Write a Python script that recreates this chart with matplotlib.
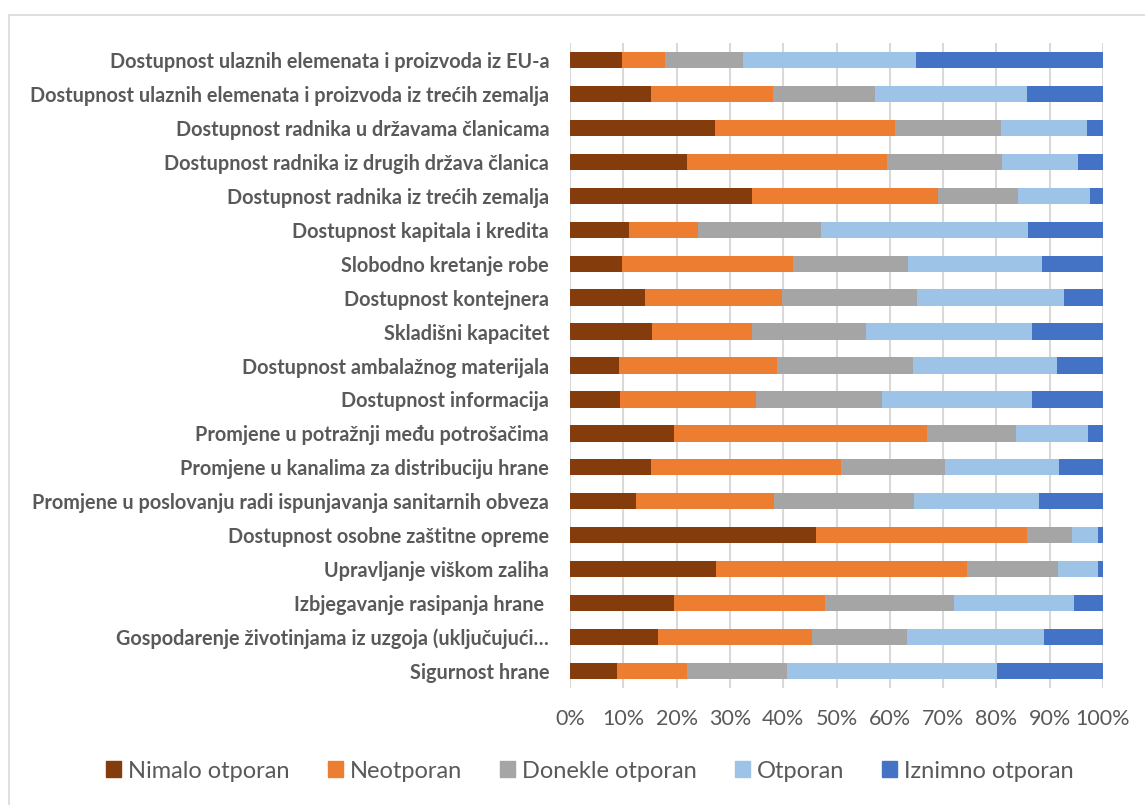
import matplotlib.pyplot as plt
from matplotlib.patches import Patch, Rectangle

categories = [
    "Dostupnost ulaznih elemenata i proizvoda iz EU-a",
    "Dostupnost ulaznih elemenata i proizvoda iz trećih zemalja",
    "Dostupnost radnika u državama članicama",
    "Dostupnost radnika iz drugih država članica",
    "Dostupnost radnika iz trećih zemalja",
    "Dostupnost kapitala i kredita",
    "Slobodno kretanje robe",
    "Dostupnost kontejnera",
    "Skladišni kapacitet",
    "Dostupnost ambalažnog materijala",
    "Dostupnost informacija",
    "Promjene u potražnji među potrošačima",
    "Promjene u kanalima za distribuciju hrane",
    "Promjene u poslovanju radi ispunjavanja sanitarnih obveza",
    "Dostupnost osobne zaštitne opreme",
    "Upravljanje viškom zaliha",
    "Izbjegavanje rasipanja hrane ",
    "Gospodarenje životinjama iz uzgoja (uključujući…",
    "Sigurnost hrane",
]

series_names = ["Nimalo otporan", "Neotporan", "Donekle otporan", "Otporan", "Iznimno otporan"]

nimalo = [9.7, 15.2, 27.2, 21.9, 34.2, 11.1, 9.7, 14.1, 15.3, 9.2, 9.3, 19.6, 15.2, 12.4, 46.2, 27.4, 19.5, 16.6, 8.9]
neotporan = [8.1, 22.9, 33.8, 37.6, 34.8, 13.0, 32.1, 25.7, 18.8, 29.6, 25.6, 47.4, 35.7, 25.9, 39.6, 47.1, 28.4, 28.8, 13.0]
donekle = [14.6, 19.1, 19.9, 21.6, 15.0, 22.9, 21.6, 25.3, 21.5, 25.5, 23.6, 16.7, 19.5, 26.3, 8.3, 17.1, 24.1, 17.8, 18.9]
otporan = [32.6, 28.6, 16.1, 14.3, 13.6, 38.9, 25.1, 27.5, 31.0, 27.0, 28.1, 13.5, 21.4, 23.4, 4.9, 7.4, 22.6, 25.7, 39.3]
iznimno = [35.0, 14.2, 3.0, 4.6, 2.4, 14.1, 11.5, 7.4, 13.4, 8.7, 13.4, 2.8, 8.2, 12.0, 1.0, 1.0, 5.4, 11.1, 19.9]

colors = ["#843C0C", "#ED7D31", "#A5A5A5", "#9DC3E6", "#4472C4"]

fig = plt.figure(figsize=(11.45, 8.05), dpi=100)
ax = fig.add_axes([570 / 1145, 1 - 688 / 805, 533 / 1145, 645 / 805])

# light border of the chart area
fig.patches.append(Rectangle((9 / 1145, -0.02), 1.1, 1 - 15 / 805 + 0.02,
                             transform=fig.transFigure, fill=False,
                             edgecolor="#D9D9D9", linewidth=1.2))

data = [nimalo, neotporan, donekle, otporan, iznimno]
y = list(range(len(categories)))
left = [0.0] * len(categories)
for vals, name, col in zip(data, series_names, colors):
    ax.barh(y, vals, left=left, height=0.48, color=col, label=name, zorder=3)
    left = [l + v for l, v in zip(left, vals)]

ax.set_xlim(0, 100)
ax.set_ylim(len(categories) - 0.5, -0.5)
ax.set_xticks(range(0, 101, 10))
ax.set_xticklabels([f"{t}%" for t in range(0, 101, 10)], fontsize=15.5,
                   color="#595959", family="Lato")
ax.set_yticks(y)
ax.set_yticklabels(categories, fontsize=14.3, fontweight="bold",
                   color="#595959", family="Lato")
ax.tick_params(axis="both", length=0)
ax.tick_params(axis="y", pad=15)
ax.tick_params(axis="x", pad=15)
ax.grid(axis="x", color="#D9D9D9", linewidth=1.5, zorder=0)
for s in ax.spines.values():
    s.set_visible(False)

handles = [Patch(color=c) for c in colors]
fig.legend(handles, series_names, loc="center", bbox_to_anchor=(590 / 1145, 1 - 771 / 805),
           ncol=5, frameon=False, handlelength=0.64, handleheight=0.64,
           handletextpad=0.3, columnspacing=1.6,
           prop={"family": "Lato", "size": 17}, labelcolor="#595959")

fig.savefig("out.png", dpi=100)
